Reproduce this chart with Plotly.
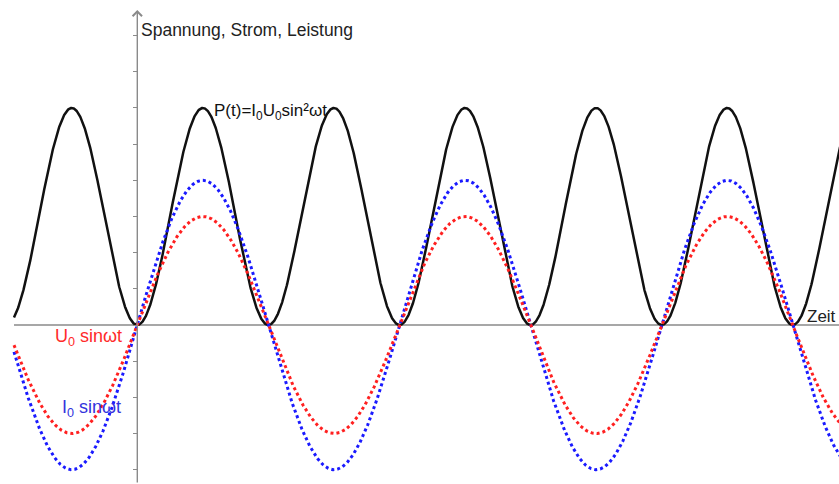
import numpy as np
import plotly.graph_objects as go

# Values (amplitudes in y-tick units, time in radians of ωt)
U0 = 3.0          # red, U0 sinωt
I0 = 4.0          # blue, I0 sinωt
P0 = 6.0          # black, P(t) peak
t_start = -2.955
t_end = 16.9
y_ticks = list(range(-4, 9))

t = np.linspace(t_start, t_end, 2500)
u = U0 * np.sin(t)
i = I0 * np.sin(t)
p = P0 * np.sin(t) ** 2

W, H = 839, 484
px_per_x = 41.73
px_per_y = 36.17
x0_px, y0_px = 137.3, 325.0
x_range = [(0 - x0_px) / px_per_x, (W - x0_px) / px_per_x]
y_range = [(y0_px - H) / px_per_y, y0_px / px_per_y]

def dx(px):
    return (px - x0_px) / px_per_x

def dy(py):
    return (y0_px - py) / px_per_y

fig = go.Figure()
fig.add_trace(go.Scatter(x=t, y=p, mode="lines", line=dict(color="#111111", width=2.5),
                         hoverinfo="skip"))
fig.add_trace(go.Scatter(x=t, y=i, mode="lines", line=dict(color="#1a1aff", width=3, dash="dot"),
                         hoverinfo="skip"))
fig.add_trace(go.Scatter(x=t, y=u, mode="lines", line=dict(color="#ff2020", width=3, dash="dot"),
                         hoverinfo="skip"))

axis_col = "#8a8a8a"
font_fam = "Liberation Sans, Arial"
shapes = [
    dict(type="line", xref="x", yref="y", x0=t_start, x1=x_range[1], y0=0, y1=0,
         line=dict(color=axis_col, width=1.5), layer="below"),
]
annotations = [
    # y axis with arrow
    dict(x=0, y=dy(10), ax=0, ay=y_range[0], xref="x", yref="y", axref="x", ayref="y",
         showarrow=True, arrowhead=4, arrowsize=1.3, arrowwidth=1.4, arrowcolor=axis_col, text=""),
    dict(x=dx(139), y=dy(30), xref="x", yref="y", xanchor="left", yanchor="middle",
         showarrow=False, text="Spannung, Strom, Leistung",
         font=dict(family=font_fam, size=17.5, color="#222222")),
    dict(x=dx(212), y=dy(112), xref="x", yref="y", xanchor="left", yanchor="middle",
         showarrow=False, text="P(t)=I<sub>0</sub>U<sub>0</sub>sin²ωt",
         font=dict(family=font_fam, size=17, color="#111111")),
    dict(x=dx(53), y=dy(337), xref="x", yref="y", xanchor="left", yanchor="middle",
         showarrow=False, text="U<sub>0</sub> sinωt",
         font=dict(family=font_fam, size=18, color="#ff2a2a")),
    dict(x=dx(60), y=dy(408), xref="x", yref="y", xanchor="left", yanchor="middle",
         showarrow=False, text="I<sub>0</sub> sinωt",
         font=dict(family=font_fam, size=18, color="#3333dd")),
    dict(x=dx(805), y=dy(316), xref="x", yref="y", xanchor="left", yanchor="middle",
         showarrow=False, text="Zeit",
         font=dict(family=font_fam, size=17, color="#222222")),
]

fig.update_layout(
    width=W, height=H,
    margin=dict(l=0, r=0, t=0, b=0),
    paper_bgcolor="white", plot_bgcolor="white",
    showlegend=False,
    shapes=shapes, annotations=annotations,
    xaxis=dict(range=x_range, visible=False, fixedrange=True),
    yaxis=dict(range=y_range, showgrid=False, zeroline=False, showline=False,
               showticklabels=False, ticks="outside", ticklen=4, tickwidth=1.2,
               tickcolor=axis_col, tickvals=y_ticks, anchor="free",
               position=x0_px / W, fixedrange=True),
)

fig.write_html("out.html", config={"displayModeBar": False},
               post_script="document.body.style.margin='0';document.body.style.overflow='hidden';")
